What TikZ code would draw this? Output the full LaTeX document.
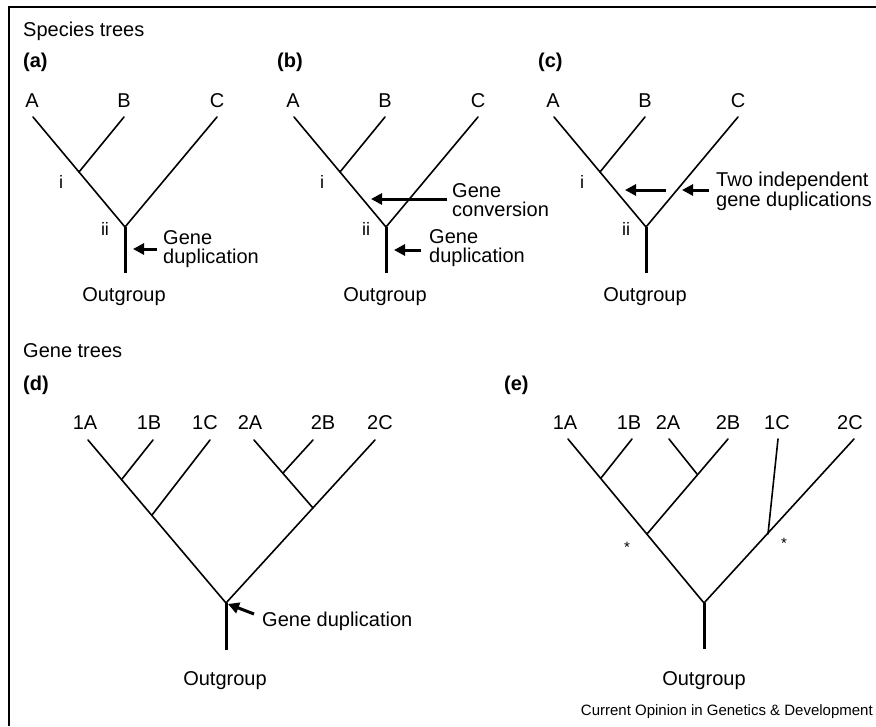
\documentclass[tikz,border=0pt]{standalone}
\usepackage{fontspec}
\setmainfont{Liberation Sans}
\usetikzlibrary{arrows.meta}
\begin{document}
\begin{tikzpicture}[x=1pt,y=-1pt,
  txt/.style={inner sep=0pt,font=\fontsize{20}{19.5}\selectfont},
  lbl/.style={txt,anchor=base},
  sml/.style={inner sep=0pt,font=\fontsize{18}{18}\selectfont,anchor=base},
  ttl/.style={inner sep=0pt,font=\fontsize{20}{20}\selectfont\bfseries,anchor=base west},
  note/.style={txt,align=left,anchor=north west},
  branch/.style={line width=1.6pt,line cap=round},
  stem/.style={line width=3pt},
  pointer/.style={line width=3pt,-{Triangle[length=11pt,width=11pt]}},
  star/.style={inner sep=0pt,font=\fontsize{15}{15}\selectfont}]
\useasboundingbox (0,0) rectangle (876,726);
% frame
\coordinate (f1) at (876,7);
\coordinate (f2) at (9,7);
\coordinate (f3) at (9,726);
\draw[line width=1.6pt] (f1) -- (f2) -- (f3);

\node[txt,anchor=base west] (sp) at (23,36) {Species trees};
\node[txt,anchor=base west] (gt) at (23,357) {Gene trees};

% ---------- species trees (a),(b),(c) ----------
\foreach \p/\dx in {a/0,b/261,c/521}{
  \coordinate (\p A) at (33+\dx,117);
  \coordinate (\p B) at (124+\dx,117);
  \coordinate (\p C) at (217+\dx,117);
  \coordinate (\p ii) at (125+\dx,227);
  \coordinate (\p i) at (79+\dx,172);
  \coordinate (\p root) at (125+\dx,273);
  \draw[branch] (\p A) -- (\p ii) -- (\p C);
  \draw[branch] (\p B) -- (\p i);
  \draw[stem] (\p ii) -- (\p root);
  \node[lbl] (\p lA) at (32+\dx,107) {A};
  \node[lbl] (\p lB) at (124+\dx,107) {B};
  \node[lbl] (\p lC) at (217+\dx,107) {C};
  \node[sml] (\p li) at (61+\dx,188) {i};
  \node[sml] (\p lii) at (105+\dx,235) {ii};
  \node[lbl] (\p out) at (124+\dx,301) {Outgroup};
}
\node[ttl] (ta) at (23,67) {(a)};
\node[ttl] (tb) at (277,67) {(b)};
\node[ttl] (tc) at (538,67) {(c)};

% (a) annotation
\coordinate (a1s) at (157,249);
\coordinate (a1e) at (133,249);
\draw[pointer] (a1s) -- (a1e);
\node[note] (an) at (163,230) {Gene\\duplication};

% (b) annotations
\coordinate (b1s) at (447,199);
\coordinate (b1e) at (371,199);
\draw[pointer] (b1s) -- (b1e);
\node[note] (bn1) at (452,183) {Gene\\conversion};
\coordinate (b2s) at (421,250);
\coordinate (b2e) at (394,250);
\draw[pointer] (b2s) -- (b2e);
\node[note] (bn2) at (429,229) {Gene\\duplication};

% (c) annotations
\coordinate (c1s) at (666,190);
\coordinate (c1e) at (625,190);
\draw[pointer] (c1s) -- (c1e);
\coordinate (c2s) at (709,190);
\coordinate (c2e) at (682,190);
\draw[pointer] (c2s) -- (c2e);
\node[note] (cn) at (716,172) {Two independent\\gene duplications};

% ---------- gene tree (d) ----------
\node[ttl] (td) at (23,390) {(d)};
\coordinate (d1A) at (88,440);
\coordinate (d1B) at (153,440);
\coordinate (d1C) at (210,440);
\coordinate (d2A) at (254,440);
\coordinate (d2B) at (313,440);
\coordinate (d2C) at (375,440);
\coordinate (dn1) at (122,479);
\coordinate (dn2) at (152,515);
\coordinate (dn3) at (283,473);
\coordinate (dn4) at (313,508);
\coordinate (dr) at (226,603);
\coordinate (dstem) at (226,650);
\draw[branch] (d1A) -- (dr) -- (d2C);
\draw[branch] (d1B) -- (dn1);
\draw[branch] (d1C) -- (dn2);
\draw[branch] (d2A) -- (dn4);
\draw[branch] (d2B) -- (dn3);
\draw[stem] (dr) -- (dstem);
\node[lbl] (dl1A) at (85,429) {1A};
\node[lbl] (dl1B) at (149,429) {1B};
\node[lbl] (dl1C) at (205,429) {1C};
\node[lbl] (dl2A) at (250,429) {2A};
\node[lbl] (dl2B) at (323,429) {2B};
\node[lbl] (dl2C) at (380,429) {2C};
\coordinate (dps) at (254,614);
\coordinate (dpe) at (228,604);
\draw[pointer] (dps) -- (dpe);
\node[txt,anchor=base west] (dnote) at (262,626) {Gene duplication};
\node[lbl] (dout) at (225,685) {Outgroup};

% ---------- gene tree (e) ----------
\node[ttl] (te) at (504,390) {(e)};
\coordinate (e1A) at (568,439);
\coordinate (e1B) at (632,439);
\coordinate (e2A) at (669,439);
\coordinate (e2B) at (728,439);
\coordinate (e1C) at (778,439);
\coordinate (e2C) at (854,439);
\coordinate (en1) at (601,478);
\coordinate (en2) at (647,534);
\coordinate (en3) at (697,474);
\coordinate (en4) at (768,534);
\coordinate (er) at (704,603);
\coordinate (estem) at (704,649);
\draw[branch] (e1A) -- (er) -- (e2C);
\draw[branch] (e1B) -- (en1);
\draw[branch] (e2B) -- (en2);
\draw[branch] (e2A) -- (en3);
\draw[branch] (e1C) -- (en4);
\draw[stem] (er) -- (estem);
\node[lbl] (el1A) at (565,429) {1A};
\node[lbl] (el1B) at (629,429) {1B};
\node[lbl] (el2A) at (668,429) {2A};
\node[lbl] (el2B) at (728,429) {2B};
\node[lbl] (el1C) at (777,429) {1C};
\node[lbl] (el2C) at (850,429) {2C};
\node[star] (es1) at (627,547) {*};
\node[star] (es2) at (784,543) {*};
\node[lbl] (eout) at (704,685) {Outgroup};

\node[inner sep=0pt,font=\fontsize{15}{15}\selectfont,anchor=base east] (cap) at (873,715) {Current Opinion in Genetics \& Development};
\end{tikzpicture}
\end{document}
